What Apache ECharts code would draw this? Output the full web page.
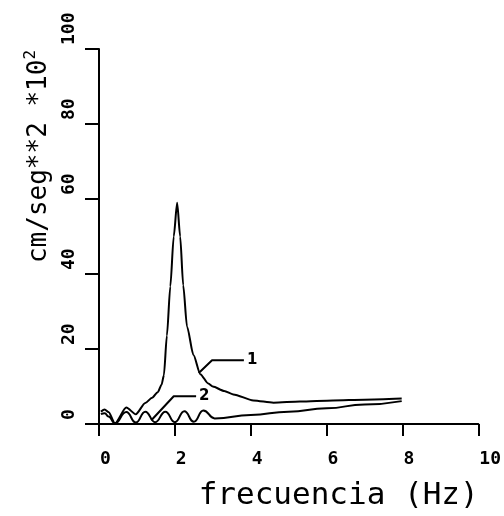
<!DOCTYPE html>
<html>
<head>
<meta charset="utf-8">
<script src="https://cdn.jsdelivr.net/npm/echarts@6/dist/echarts.min.js"></script>
<style>
html,body{margin:0;padding:0;background:#fff;}
#c{width:504px;height:516px;}
</style>
</head>
<body>
<div id="c"></div>
<script>
// Curve 1
const freq1 = [0.05,0.15,0.25,0.42,0.72,0.97,1.22,1.4,1.55,1.65,1.71,1.79,1.88,1.97,2.06,2.14,2.22,2.32,2.49,2.67,2.88,3.0,3.3,3.54,4.07,4.6,5.3,6.17,7.0,7.98];
const amp1  = [3.3,3.9,3.2,0.2,4.4,2.6,5.6,7.0,8.5,10.5,13,23.6,36.7,50,59,50,37,26,18.4,13.3,10.8,10,8.8,7.9,6.3,5.7,6.0,6.3,6.5,6.8];
// Curve 2
const freq2 = [0.05,0.15,0.25,0.42,0.72,0.97,1.22,1.48,1.75,2.0,2.25,2.5,2.75,3.05,4.0,5.0,6.0,7.0,7.98];
const amp2  = [2.6,2.9,2.0,0.2,3.2,0.4,3.3,0.5,3.3,0.5,3.4,0.6,3.6,1.5,2.4,3.3,4.2,5.2,6.1];
// Leader lines for labels
const leader1 = [[2.63,13.6],[2.98,17.0],[3.82,17.0]];
const leader2 = [[1.38,1.0],[1.97,7.4],[2.56,7.4]];
const curveLabels = ['1','2'];
// Axis
const xTicks = [0,2,4,6,8,10];
const yTicks = [0,20,40,60,80,100];
const xTitle = 'frecuencia (Hz)';
const yTitle = 'cm/seg**2 *10';
const yTitleSup = '2';

const zip = (a,b) => a.map((v,i)=>[v,b[i]]);
const leaderSeries = (pts, txt) => ({
  type:'line', data:pts, showSymbol:false, symbol:'none', silent:true,
  lineStyle:{color:'#000', width:2},
  endLabel:{show:true, formatter:txt, distance:3, color:'#000', fontSize:15,
    fontWeight:'bold', fontFamily:'DejaVu Sans'}
});

const mono = 'DejaVu Sans Mono';
const chart = echarts.init(document.getElementById('c'), null, {renderer:'canvas'});
chart.setOption({
  backgroundColor:'#fff',
  animation:false,
  grid:{left:99, right:25, top:49, bottom:86, containLabel:false},
  xAxis:{
    type:'value', min:xTicks[0], max:xTicks[xTicks.length-1], interval:2,
    axisLine:{onZero:false, lineStyle:{color:'#000', width:2}},
    axisTick:{show:true, length:12, lineStyle:{color:'#000', width:2}},
    splitLine:{show:false},
    axisLabel:{color:'#000', fontSize:18, fontWeight:'bold', fontFamily:mono, margin:26, align:'left', padding:[0,0,0,1]},
    name:xTitle, nameLocation:'middle', nameGap:56,
    nameTextStyle:{color:'#000', fontSize:31, fontFamily:mono, padding:[0,0,0,100]}
  },
  yAxis:{
    type:'value', min:yTicks[0], max:yTicks[yTicks.length-1], interval:20,
    axisLine:{onZero:false, lineStyle:{color:'#000', width:2}},
    axisTick:{show:true, length:14, lineStyle:{color:'#000', width:2}},
    splitLine:{show:false},
    axisLabel:{color:'#000', fontSize:18, fontWeight:'bold', fontFamily:mono, margin:30, rotate:90,
      align:'left', verticalAlign:'middle', padding:[0,0,0,4]},
    name:yTitle + '{sup|' + yTitleSup + '}', nameLocation:'middle', nameGap:44, nameRotate:90,
    nameTextStyle:{color:'#000', fontSize:26, fontFamily:mono, padding:[0,0,0,160],
      rich:{sup:{fontSize:16, fontFamily:mono, color:'#000', verticalAlign:'top', lineHeight:32}}}
  },
  series:[
    {type:'line', data:zip(freq1,amp1), showSymbol:false, smooth:0.25, smoothMonotone:'x',
     lineStyle:{color:'#000', width:2}, silent:true},
    {type:'line', data:zip(freq2,amp2), showSymbol:false, smooth:0.5, smoothMonotone:'x',
     lineStyle:{color:'#000', width:2}, silent:true},
    leaderSeries(leader1, curveLabels[0]),
    leaderSeries(leader2, curveLabels[1])
  ]
});
</script>
</body>
</html>
